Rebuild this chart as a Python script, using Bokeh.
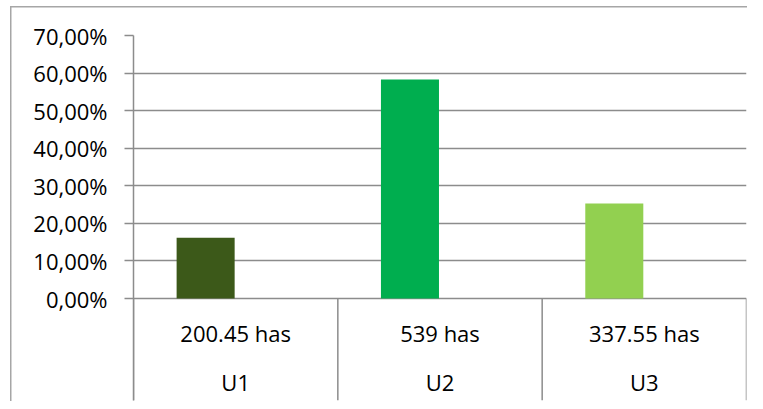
from bokeh.plotting import figure
from bokeh.models import FactorRange, Range1d, FixedTicker, ColumnDataSource
from bokeh.transform import dodge
from bokeh.core.properties import value
from bokeh.embed import file_html
from bokeh.resources import INLINE

# ---- data ----
units = ["U1", "U2", "U3"]
areas = ["200.45 has", "539 has", "337.55 has"]
shares = [16.2, 58.3, 25.3]
colors = ["#3C5919", "#00AE4F", "#92D050"]
y_ticks = [0, 10, 20, 30, 40, 50, 60, 70]
y_tick_labels = ["0,00%", "10,00%", "20,00%", "30,00%", "40,00%", "50,00%", "60,00%", "70,00%"]

# ---- layout (canvas pixels) ----
W, H = 747, 401
frame_left, frame_right = 133, 746
frame_top, frame_bottom, zero_y = 35, 400, 298
ymax = y_ticks[-1]
px_per_unit = (zero_y - frame_top) / ymax
ymin = -(frame_bottom - zero_y) / px_per_unit

GRID = "#8c8c8c"
BORDER = "#a6a6a6"
FONT = "Open Sans"

p = figure(width=W, height=H,
           x_range=FactorRange(*units, range_padding=0),
           y_range=Range1d(ymin, ymax),
           x_axis_location=None,
           output_backend="svg", toolbar_location=None,
           min_border_left=frame_left, min_border_right=W - frame_right,
           min_border_top=frame_top, min_border_bottom=H - frame_bottom)
p.outline_line_color = None
p.background_fill_color = "white"
p.border_fill_color = None
# chart-area border (left and top edges) painted behind the transparent canvas border
p.styles = {
    "background": (f"linear-gradient({BORDER}, {BORDER}) 10px 6px / 1.5px 100% no-repeat, "
                   f"linear-gradient({BORDER}, {BORDER}) 10px 6px / 100% 1.5px no-repeat, "
                   "#ffffff"),
}

# y axis
ax = p.yaxis[0]
ax.ticker = FixedTicker(ticks=y_ticks)
ax.major_label_overrides = {t: l for t, l in zip(y_ticks, y_tick_labels)}
ax.major_tick_out = 9
ax.major_tick_in = 0
ax.minor_tick_out = 0
ax.minor_tick_in = 0
ax.axis_line_color = GRID
ax.axis_line_width = 1.5
ax.major_tick_line_color = GRID
ax.major_tick_line_width = 1.5
ax.major_label_standoff = 17
ax.major_label_text_font = FONT
ax.major_label_text_font_size = "22px"
ax.major_label_text_color = "#000000"

# grid
p.xgrid.visible = False
p.ygrid.ticker = FixedTicker(ticks=y_ticks)
p.ygrid.grid_line_color = GRID
p.ygrid.grid_line_width = 1.5

src = ColumnDataSource(dict(unit=units, share=shares, color=colors, area=areas))

p.vbar(x=dodge("unit", -0.147, range=p.x_range), top="share", bottom=0,
       width=0.284, fill_color="color", line_color=None, source=src)

# category separators
bounds = list(range(len(units) + 1))
p.segment(x0=bounds, y0=[0] * len(bounds), x1=bounds, y1=[ymin] * len(bounds),
          line_color=GRID, line_width=1.5)

# category labels (two rows)
p.text(x="unit", y=0, text="area", y_offset=34, text_align="center",
       text_baseline="middle", text_font=value(FONT), text_font_size="22px",
       text_color="#000000", source=src)
p.text(x="unit", y=0, text="unit", y_offset=83, text_align="center",
       text_baseline="middle", text_font=value(FONT), text_font_size="22px",
       text_color="#000000", source=src)

open("out.html", "w").write(file_html(p, INLINE))
